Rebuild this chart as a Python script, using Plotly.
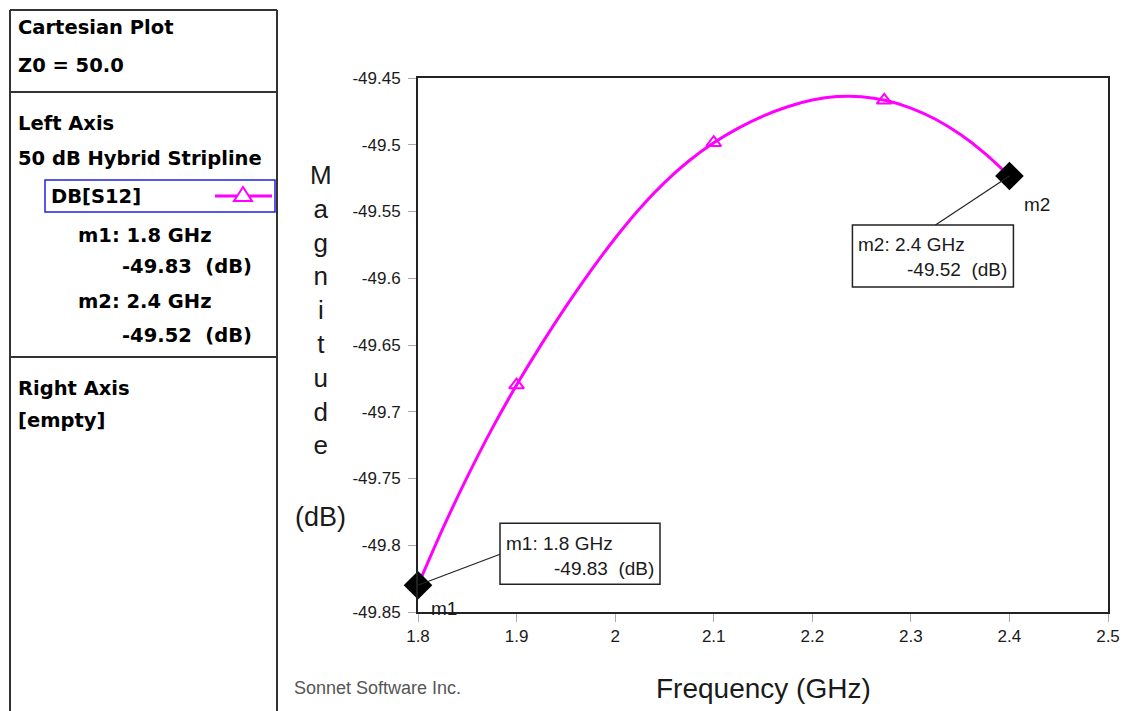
import plotly.graph_objects as go

# ---------------- data ----------------
freq = [1.800, 1.825, 1.850, 1.875, 1.900, 1.925, 1.950, 1.975, 2.000, 2.025,
        2.050, 2.075, 2.100, 2.125, 2.150, 2.175, 2.200, 2.225, 2.250, 2.275,
        2.300, 2.325, 2.350, 2.375, 2.400]
mag = [-49.8300, -49.7878, -49.7488, -49.7128, -49.6800, -49.6497, -49.6213, -49.5947, -49.5700, -49.5477,
       -49.5284, -49.5120, -49.4985, -49.4875, -49.4785, -49.4715, -49.4665, -49.4639, -49.4640, -49.4669,
       -49.4725, -49.4809, -49.4922, -49.5064, -49.5234]
sym_freq = [1.9, 2.1, 2.273]
sym_mag = [-49.680, -49.4985, -49.4667]
marker_names = ["m1", "m2"]
marker_freq = [1.8, 2.4]
marker_mag = [-49.830, -49.5234]
x_tickvals = [1.8, 1.9, 2.0, 2.1, 2.2, 2.3, 2.4, 2.5]
x_ticktext = ["1.8", "1.9", "2", "2.1", "2.2", "2.3", "2.4", "2.5"]
y_tickvals = [-49.85, -49.8, -49.75, -49.7, -49.65, -49.6, -49.55, -49.5, -49.45]
y_ticktext = ["-49.85", "-49.8", "-49.75", "-49.7", "-49.65", "-49.6", "-49.55", "-49.5", "-49.45"]
x_range = [1.8, 2.5]
y_range = [-49.85, -49.45]

# ---------------- geometry ----------------
# the page adds an 8px body margin; work in screenshot pixels
W, H = 1144, 711
OFF = 8
RL, RT, RR, RB = 418, 78, 1108, 612          # plot frame in screenshot pixels
PW, PH = RR - RL, RB - RT
L, T = RL - OFF, RT - OFF
R, B = W - (RR - OFF), H - (RB - OFF)


def px(x):
    return (x - RL) / PW


def py(y):
    return (RB - y) / PH


def data_px(f):
    return RL + (f - x_range[0]) / (x_range[1] - x_range[0]) * PW


def data_py(v):
    return RT + (y_range[1] - v) / (y_range[1] - y_range[0]) * PH


MAG = "#FF00FF"
fig = go.Figure()
fig.add_trace(go.Scatter(x=freq, y=mag, mode="lines",
                         line=dict(color=MAG, width=3, shape="spline", smoothing=0.8),
                         cliponaxis=False, showlegend=False, hoverinfo="skip"))
fig.add_trace(go.Scatter(x=sym_freq, y=sym_mag, mode="markers",
                         marker=dict(symbol="triangle-up-open", size=13,
                                     color=MAG, line=dict(width=2, color=MAG)),
                         showlegend=False))
fig.add_trace(go.Scatter(x=marker_freq, y=marker_mag, mode="markers",
                         marker=dict(symbol="diamond", size=22, color="black"),
                         cliponaxis=False, showlegend=False))

shapes = []
ann = []

# left info panel
LC = "#333333"
for (x0, y0, x1, y1) in [(10, 10, 10, 720), (277, 10, 277, 720), (10, 10, 277, 10),
                         (10, 92, 277, 92), (10, 357, 277, 357)]:
    shapes.append(dict(type="line", xref="paper", yref="paper",
                       x0=px(x0), y0=py(y0), x1=px(x1), y1=py(y1),
                       line=dict(color=LC, width=2)))

BF = dict(family="DejaVu Sans", size=19.5, color="black")


def left_text(x, y, s, anchor="left"):
    ann.append(dict(xref="paper", yref="paper", x=px(x), y=py(y), text="<b>" + s + "</b>",
                    showarrow=False, xanchor=anchor, yanchor="middle", font=BF))


left_text(16, 27, "Cartesian Plot")
left_text(16, 65, "Z0 = 50.0")
left_text(16, 123, "Left Axis")
left_text(16, 158, "50 dB Hybrid Stripline")
left_text(49, 196, "DB[S12]")
left_text(76, 235, "m1: 1.8 GHz")
left_text(254, 266, "-49.83\u00a0\u00a0(dB)", anchor="right")
left_text(76, 301, "m2: 2.4 GHz")
left_text(254, 335, "-49.52\u00a0\u00a0(dB)", anchor="right")
left_text(16, 388, "Right Axis")
left_text(16, 420, "[empty]")

# legend entry box
shapes.append(dict(type="rect", xref="paper", yref="paper", x0=px(45), y0=py(180),
                   x1=px(275), y1=py(212), line=dict(color="#2020E0", width=1.5)))
shapes.append(dict(type="line", xref="paper", yref="paper", x0=px(215), y0=py(196),
                   x1=px(272), y1=py(196), line=dict(color=MAG, width=3)))
tri = [(243, 187), (234, 201), (252, 201)]
shapes.append(dict(type="path", xref="paper", yref="paper",
                   path="M {} {} L {} {} L {} {} Z".format(*[c for p in tri for c in (px(p[0]), py(p[1]))]),
                   fillcolor="white", line=dict(color=MAG, width=2)))

# axis titles
AF = dict(family="Arial, Liberation Sans", color="#1a1a1a")
ann.append(dict(xref="paper", yref="paper", x=px(321), y=py(310),
                text="<br>".join(list("Magnitude")), showarrow=False,
                xanchor="center", yanchor="middle", font=dict(size=26, **AF)))
ann.append(dict(xref="paper", yref="paper", x=px(320), y=py(517), text="(dB)",
                showarrow=False, xanchor="center", yanchor="middle", font=dict(size=27, **AF)))
ann.append(dict(xref="paper", yref="paper", x=px(763), y=py(688), text="Frequency (GHz)",
                showarrow=False, xanchor="center", yanchor="middle", font=dict(size=28, **AF)))
ann.append(dict(xref="paper", yref="paper", x=px(292), y=py(688), text="Sonnet Software Inc.",
                showarrow=False, xanchor="left", yanchor="middle",
                font=dict(size=18, family="Arial, Liberation Sans", color="#555555")))

# marker labels and callouts
TF = dict(family="Arial, Liberation Sans", size=19, color="#1a1a1a")
callouts = [
    dict(box=(82, -62, 242, -1), lead=(82, -31), lab=(11, 23)),
    dict(box=(-157, 49, 4, 111), lead=(-74, 49), lab=(13, 29)),
]
for name, f, v, c in zip(marker_names, marker_freq, marker_mag, callouts):
    mx, my = data_px(f), data_py(v)
    bx0, by0, bx1, by1 = mx + c["box"][0], my + c["box"][1], mx + c["box"][2], my + c["box"][3]
    shapes.append(dict(type="rect", xref="paper", yref="paper", x0=px(bx0), y0=py(by0),
                       x1=px(bx1), y1=py(by1), line=dict(color="#222222", width=1.5),
                       fillcolor="white", layer="above"))
    shapes.append(dict(type="line", xref="paper", yref="paper", x0=px(mx), y0=py(my),
                       x1=px(mx + c["lead"][0]), y1=py(my + c["lead"][1]),
                       line=dict(color="#222222", width=1.2)))
    ann.append(dict(xref="paper", yref="paper", x=px(bx0 + 4), y=py(by0 + 20),
                    text=f"{name}: {f:g} GHz", showarrow=False, xanchor="left",
                    yanchor="middle", font=TF))
    ann.append(dict(xref="paper", yref="paper", x=px(bx1 - 4), y=py(by0 + 45),
                    text=f"{v:.2f}\u00a0\u00a0(dB)", showarrow=False, xanchor="right",
                    yanchor="middle", font=TF))
    ann.append(dict(xref="paper", yref="paper", x=px(mx + c["lab"][0]), y=py(my + c["lab"][1]),
                    text=name, showarrow=False, xanchor="left", yanchor="middle", font=TF))

TICKF = dict(family="Arial, Liberation Sans", size=17, color="#1a1a1a")
fig.update_layout(
    width=W, height=H, margin=dict(l=L, r=R, t=T, b=B, pad=0),
    paper_bgcolor="white", plot_bgcolor="white",
    shapes=shapes, annotations=ann, showlegend=False,
    xaxis=dict(range=x_range, tickvals=x_tickvals, ticktext=x_ticktext,
               showgrid=False, zeroline=False, showline=True, mirror=True,
               linecolor="#222222", linewidth=2, ticks="outside", ticklen=8,
               tickcolor="#aaaaaa", tickwidth=1, tickfont=TICKF),
    yaxis=dict(range=y_range, tickvals=y_tickvals, ticktext=y_ticktext,
               showgrid=False, zeroline=False, showline=True, mirror=True,
               linecolor="#222222", linewidth=2, ticks="outside", ticklen=8,
               tickcolor="#aaaaaa", tickwidth=1, ticklabelstandoff=4, tickfont=TICKF),
)

fig.write_html("out.html")
